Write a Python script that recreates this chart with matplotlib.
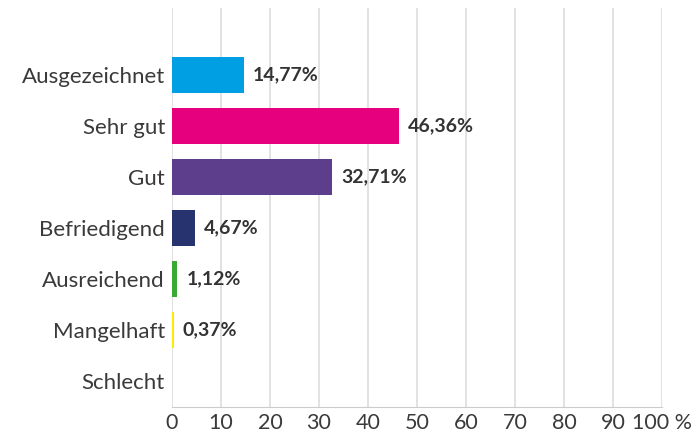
import matplotlib.pyplot as plt
import numpy as np

# Categories and shares in percent
categories = ['Ausgezeichnet', 'Sehr gut', 'Gut', 'Befriedigend', 'Ausreichend', 'Mangelhaft', 'Schlecht']
values = [14.77, 46.36, 32.71, 4.67, 1.12, 0.37, 0.0]
labels = ['14,77%', '46,36%', '32,71%', '4,67%', '1,12%', '0,37%', '']
colors = ['#009fe3', '#e6007e', '#5c3e8c', '#27336e', '#3aaa35', '#ffed00', '#cccccc']
xticks = [0, 10, 20, 30, 40, 50, 60, 70, 80, 90, 100]
xticklabels = ['0', '10', '20', '30', '40', '50', '60', '70', '80', '90', '100 %']

plt.rcParams['font.family'] = ['Lato', 'DejaVu Sans']

fig = plt.figure(figsize=(7, 4.34), dpi=100)
ax = fig.add_axes([0.2457, 0.0622, 0.70, 0.9194])

y = np.arange(len(categories))
ax.barh(y, values, height=0.7, color=colors, zorder=3)

for yi, v, lab in zip(y, values, labels):
    if lab:
        ax.text(v + 1.8, yi, lab, va='center', ha='left', fontsize=14,
                fontweight='bold', color='#333333', zorder=4)

ax.set_xlim(0, 100)
ax.set_ylim(6.51, -1.31)
ax.set_yticks(y)
ax.set_yticklabels(categories, fontsize=16, color='#3a3a3a')
ax.set_xticks(xticks)
ax.set_xticklabels(xticklabels, fontsize=15.5, color='#3a3a3a')

ax.grid(axis='x', color='#dddddd', linewidth=1.2, zorder=0)
for s in ['top', 'right', 'left']:
    ax.spines[s].set_visible(False)
ax.spines['bottom'].set_color('#cccccc')
ax.tick_params(axis='y', length=0, pad=5)
ax.tick_params(axis='x', length=0, pad=4)

fig.savefig('out.png', dpi=100)
